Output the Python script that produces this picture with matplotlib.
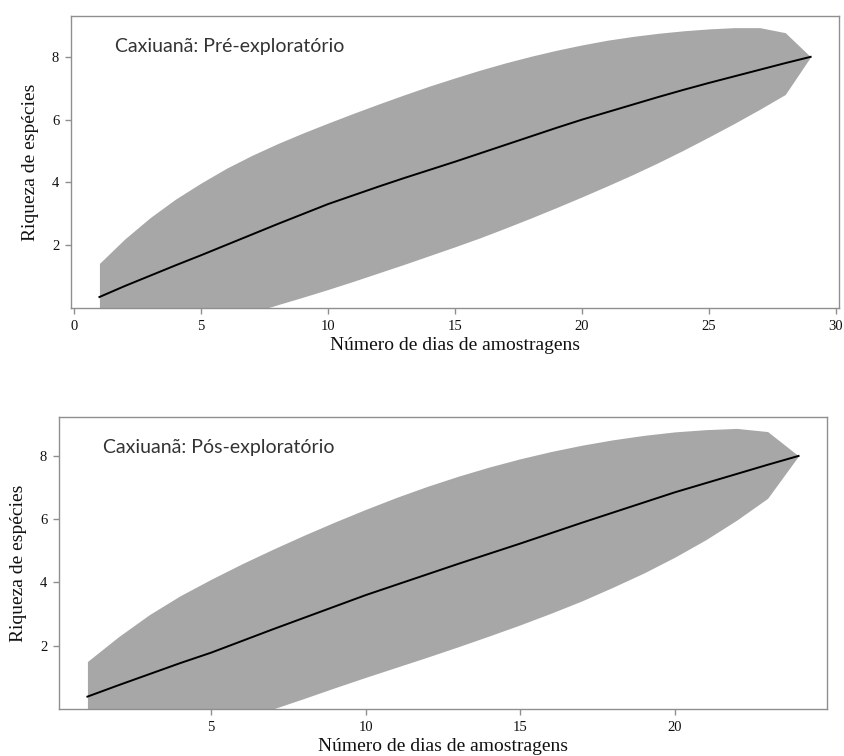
import matplotlib
matplotlib.use("Agg")
import matplotlib.pyplot as plt

# Curvas de rarefação (média e limites do intervalo)
dias_pre = list(range(1, 30))
media_pre = [0.35, 0.70, 1.03, 1.36, 1.68, 2.01, 2.34, 2.67, 2.99, 3.31,
             3.59, 3.87, 4.14, 4.40, 4.66, 4.93, 5.20, 5.47, 5.74, 6.00,
             6.24, 6.48, 6.72, 6.95, 7.17, 7.38, 7.59, 7.80, 8.00]
sup_pre = [1.42, 2.20, 2.88, 3.47, 3.98, 4.45, 4.86, 5.23, 5.57, 5.89,
           6.20, 6.50, 6.79, 7.07, 7.33, 7.58, 7.81, 8.02, 8.21, 8.38,
           8.53, 8.65, 8.75, 8.83, 8.89, 8.93, 8.93, 8.77, 8.00]
inf_pre = [-1.70, -1.45, -1.20, -0.95, -0.70, -0.43, -0.15, 0.10, 0.34, 0.59,
           0.85, 1.12, 1.39, 1.67, 1.95, 2.24, 2.55, 2.87, 3.20, 3.54,
           3.89, 4.25, 4.63, 5.03, 5.45, 5.88, 6.33, 6.80, 8.00]

dias_pos = list(range(1, 25))
media_pos = [0.39, 0.75, 1.10, 1.45, 1.78, 2.15, 2.52, 2.88, 3.24, 3.60,
             3.93, 4.26, 4.59, 4.91, 5.23, 5.56, 5.89, 6.21, 6.53, 6.85,
             7.14, 7.43, 7.72, 8.00]
sup_pos = [1.50, 2.28, 2.98, 3.58, 4.10, 4.59, 5.05, 5.49, 5.91, 6.31,
           6.69, 7.04, 7.36, 7.65, 7.91, 8.14, 8.34, 8.51, 8.65, 8.76,
           8.83, 8.87, 8.77, 8.00]
inf_pos = [-2.00, -1.66, -1.33, -1.00, -0.66, -0.33, 0.00, 0.33, 0.67, 1.00,
           1.32, 1.64, 1.97, 2.31, 2.66, 3.03, 3.42, 3.85, 4.30, 4.80,
           5.35, 5.97, 6.66, 8.00]

titulos = ["Caxiuanã: Pré-exploratório", "Caxiuanã: Pós-exploratório"]
xticks_pre = [0, 5, 10, 15, 20, 25, 30]
xticks_pos = [5, 10, 15, 20]
yticks = [2, 4, 6, 8]

serif = "Liberation Serif"
cinza_eixo = "#8f8f8f"

fig = plt.figure(figsize=(8.45, 7.56), dpi=100)
ax1 = fig.add_axes([0.084, 0.5926, 0.909, 0.3862])
ax2 = fig.add_axes([0.0698, 0.0622, 0.9089, 0.3862])

paineis = [
    (ax1, dias_pre, media_pre, sup_pre, inf_pre, xticks_pre, titulos[0], 9.3),
    (ax2, dias_pos, media_pos, sup_pos, inf_pos, xticks_pos, titulos[1], 9.23),
]

for ax, x, m, s, i, xt, tit, ytop in paineis:
    ax.fill_between(x, i, s, color="#a7a7a7", linewidth=0)
    ax.plot(x, m, color="black", linewidth=1.4)
    pad = 0.04 * (x[-1] - x[0])
    ax.set_xlim(x[0] - pad, x[-1] + pad)
    ax.set_ylim(0, ytop)
    ax.set_xticks(xt)
    ax.set_yticks(yticks)
    for sp in ax.spines.values():
        sp.set_color(cinza_eixo)
        sp.set_linewidth(1.0)
    ax.tick_params(direction="out", length=4.5, width=1.0, color=cinza_eixo,
                   labelsize=10.5, labelcolor="#111111", pad=4)
    for lab in ax.get_xticklabels() + ax.get_yticklabels():
        lab.set_fontfamily(serif)
    ax.set_xlabel("Número de dias de amostragens", fontfamily=serif,
                  fontsize=14, color="#111111", labelpad=3)
    ax.set_ylabel("Riqueza de espécies", fontfamily=serif,
                  fontsize=14, color="#111111", labelpad=9)
    ax.text(0.057, 0.894, tit, transform=ax.transAxes, fontfamily="Lato",
            fontsize=14, color="#333333", va="center", ha="left")

fig.savefig("out.png", dpi=100)
